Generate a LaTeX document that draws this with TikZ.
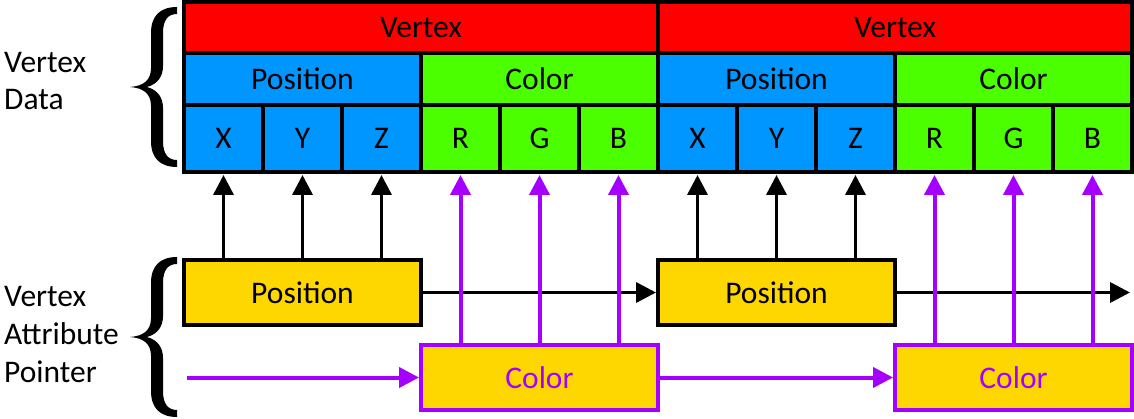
\documentclass[tikz,border=0pt]{standalone}
\usepackage{fontspec}
\setmainfont{Carlito}
\usetikzlibrary{arrows.meta}
\definecolor{vred}{RGB}{255,0,0}
\definecolor{vblue}{RGB}{0,150,255}
\definecolor{vgreen}{RGB}{76,255,0}
\definecolor{vgold}{RGB}{255,215,0}
\definecolor{vpurple}{RGB}{165,0,255}
\begin{document}
\begin{tikzpicture}[x=1pt,y=-1pt,
  txt/.style={font=\fontsize{31.5}{36}\selectfont},
  cell/.style={txt, draw=black, line width=4pt, inner sep=0pt, outer sep=0pt, anchor=north west},
  ptrbox/.style={txt, fill=vgold, line width=4pt, inner sep=0pt, outer sep=0pt, anchor=north west, minimum width=237pt, minimum height=65pt},
  lbl/.style={txt, anchor=base west, inner sep=0pt},
  blackarrow/.style={draw=black, line width=3.5pt, -{Triangle[length=20pt,width=20pt]}},
  purplearrow/.style={draw=vpurple, line width=4pt, -{Triangle[length=20pt,width=20pt]}},
  bracefill/.style={fill=black, draw=none}
]
\useasboundingbox (0,0) rectangle (1134,419);

% labels
\node[lbl] (ld1) at (4,73) {Vertex};
\node[lbl] (ld2) at (4,110) {Data};
\node[lbl] (la1) at (4,306) {Vertex};
\node[lbl] (la2) at (4,344) {Attribute};
\node[lbl] (la3) at (4,382) {Pointer};

% braces
\foreach \s in {0,250}{
\begin{scope}[shift={(0,\s)}]
\path[bracefill] (177,7) .. controls (160,7) and (151,16) .. (151,33) -- (151,68)
  .. controls (151,80) and (144,86) .. (130,87)
  .. controls (144,88) and (151,94) .. (151,106) -- (151,141)
  .. controls (151,158) and (160,167) .. (177,167) -- (177,160)
  .. controls (168,160) and (163,154) .. (163,141) -- (163,108)
  .. controls (163,98) and (158,90) .. (147,87)
  .. controls (158,84) and (163,76) .. (163,66) -- (163,33)
  .. controls (163,20) and (168,14) .. (177,14) -- cycle;
\end{scope}}

% vertex data grid
\node[cell, fill=vred, minimum width=474pt, minimum height=51pt] (v1) at (184,2) {Vertex};
\node[cell, fill=vred, minimum width=474pt, minimum height=51pt] (v2) at (658,2) {Vertex};
\node[cell, fill=vblue, minimum width=237pt, minimum height=52pt] (p1) at (184,53) {Position};
\node[cell, fill=vgreen, minimum width=237pt, minimum height=52pt] (c1) at (421,53) {Color};
\node[cell, fill=vblue, minimum width=237pt, minimum height=52pt] (p2) at (658,53) {Position};
\node[cell, fill=vgreen, minimum width=237pt, minimum height=52pt] (c2) at (895,53) {Color};
\foreach \n/\x/\t/\c in {X1/184/X/vblue, Y1/263/Y/vblue, Z1/342/Z/vblue,
                         R1/421/R/vgreen, G1/500/G/vgreen, B1/579/B/vgreen,
                         X2/658/X/vblue, Y2/737/Y/vblue, Z2/816/Z/vblue,
                         R2/895/R/vgreen, G2/974/G/vgreen, B2/1053/B/vgreen}{
  \node[cell, fill=\c, minimum width=79pt, minimum height=67pt] (\n) at (\x,105) {\t};
}

% attribute pointer boxes
\node[ptrbox, draw=black] (pp1) at (184,260) {Position};
\node[ptrbox, draw=black] (pp2) at (658,260) {Position};
\node[ptrbox, draw=vpurple, text=vpurple] (cp1) at (421,345) {Color};
\node[ptrbox, draw=vpurple, text=vpurple] (cp2) at (895,345) {Color};

% black arrows
\coordinate (pend) at (1130,292.5);
\draw[blackarrow, shorten >=2pt] (pp1.east) -- (pp2.west);
\draw[blackarrow] (pp2.east) -- (pend);
\foreach \c in {X1,Y1,Z1}{\draw[blackarrow, shorten >=3pt] (pp1.north -| \c) -- (\c.south);}
\foreach \c in {X2,Y2,Z2}{\draw[blackarrow, shorten >=3pt] (pp2.north -| \c) -- (\c.south);}

% purple arrows
\coordinate (cstart) at (187,377.5);
\draw[purplearrow, shorten >=2pt] (cstart) -- (cp1.west);
\draw[purplearrow, shorten >=2pt] (cp1.east) -- (cp2.west);
\foreach \c in {R1,G1,B1}{\draw[purplearrow, shorten >=3pt] (cp1.north -| \c) -- (\c.south);}
\foreach \c in {R2,G2,B2}{\draw[purplearrow, shorten >=3pt] (cp2.north -| \c) -- (\c.south);}
\end{tikzpicture}
\end{document}
